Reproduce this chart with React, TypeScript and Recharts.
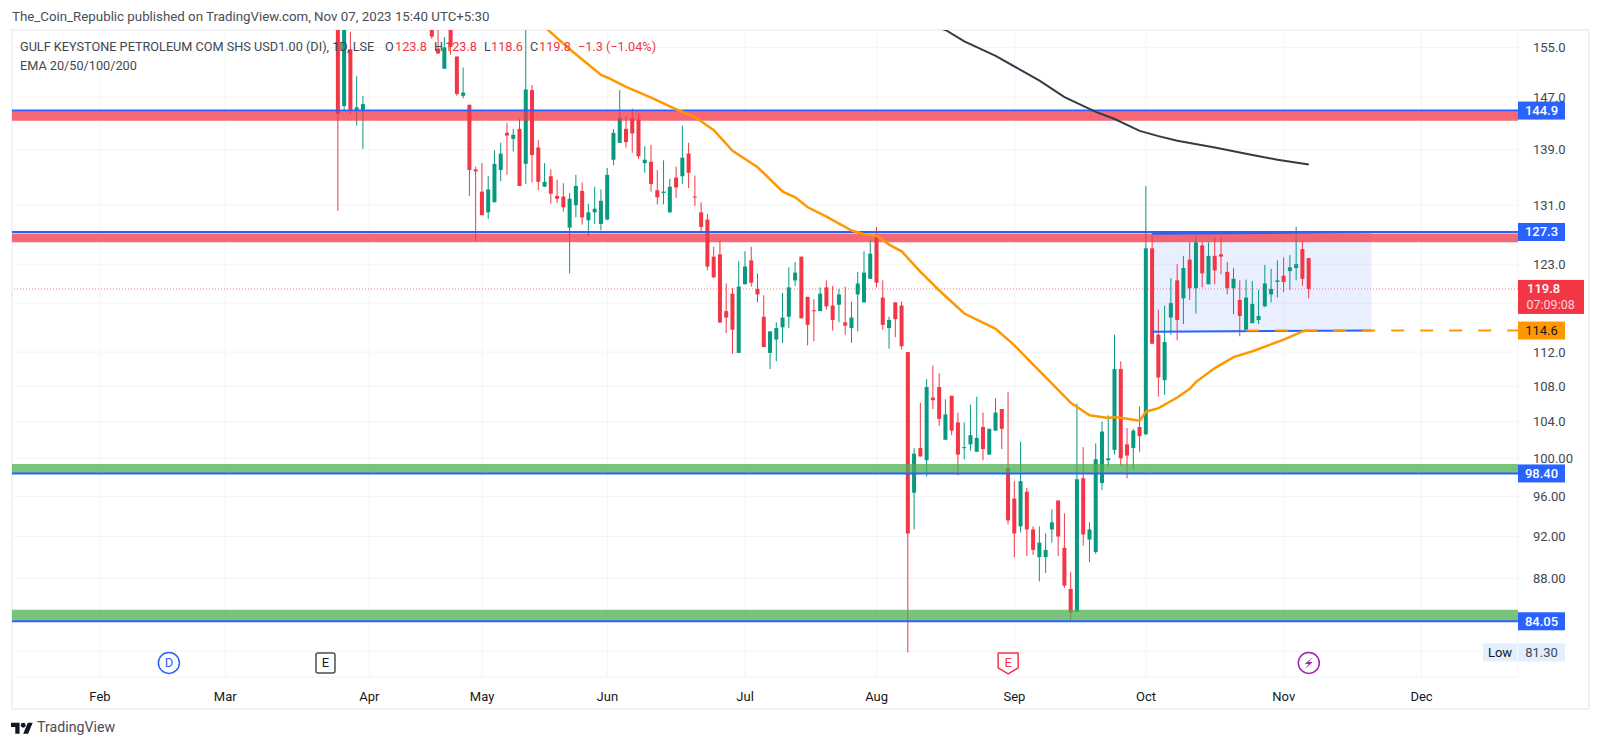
import React from "react";
import {
  ComposedChart,
  Bar,
  Line,
  XAxis,
  YAxis,
  CartesianGrid,
  ReferenceArea,
  ReferenceLine,
  ReferenceDot,
} from "recharts";

// bar number on the time axis, 0 = 1 Feb. The stock is off the top of the pane for bars 43-52.
const days = [
  38, 39, 40, 41, 42,
  ...Array.from({ length: 141 }, (_, i) => 53 + i),
];

const opens = [
  165, 145.6, 154.7, 145, 145,
  158.7, 154.8, 151.5, 159, 153.5, 147.2, 145.8, 136.1, 132.9, 130, 131.4, 136, 141.5, 140.6, 142.1, 136.9, 148.1, 139.3, 133.6, 135.1, 132.3, 132.2, 127.9, 131, 133, 128.9, 130, 128.4, 129, 137.5, 140, 142.1, 143.7, 143.5, 137, 137.2, 133.1, 132.7, 130, 134.9, 135.1, 138.4, 132.2, 130, 129, 124, 124.3, 117, 119.2, 111.9, 120.4, 123.5, 119.8, 116.3, 111.9, 113.5, 115, 116.3, 120.9, 124, 118.8, 117.1, 117, 120, 117.7, 117.8, 115.6, 114.9, 119.1, 118.1, 121.1, 126.6, 118.7, 114.9, 118.1, 117.7,
  112, 96.4, 101.1, 99.8, 106.7, 107.9, 102, 106.9, 103.9, 101.1, 101.5, 100.7, 103.4, 100.4, 103, 105.4, 99, 95.8, 93, 96.5, 92.7, 90, 90, 92.7, 95.6, 90.9, 87, 84.9, 97.9, 91.7, 90.5, 97.4, 99.8, 100.9, 110, 101.5, 101.1, 103.4, 102.6, 125.1, 114.1, 108.7, 116.2, 120.9, 118.6, 123.6, 119.9, 125.5, 120.4, 124.1, 124.3, 122, 119.9, 118.4, 114.7, 115.5, 115.9, 117.6, 119.1, 120.7, 121.5, 122.1, 122.5, 125, 123.8,
];

const highs = [
  170, 170, 157.6, 150.3, 147.2,
  160, 159, 156.7, 161, 153.5, 151.7, 145.8, 136.5, 137, 135.1, 138.9, 140, 143, 142.1, 143.6, 158.2, 148.9, 140.4, 137, 136.1, 134.6, 134.1, 132.7, 135.3, 134.2, 131.2, 133.6, 133.2, 136.3, 142.1, 148.1, 144, 145.2, 144.5, 139.5, 139.7, 136, 137.4, 134.7, 136.5, 142.6, 140, 135.2, 131.4, 129.8, 125.3, 126.2, 120.5, 119.9, 123.4, 124.7, 125.3, 121.8, 119, 114.5, 115.6, 119.3, 122.6, 123.3, 124, 118.8, 118.5, 120, 120.9, 120.2, 119.8, 120.1, 118.2, 122, 124.7, 126.2, 128, 120.9, 116.3, 118.1, 118.2,
  112, 101.1, 106.1, 108.8, 110.4, 109.5, 106.5, 106.9, 105, 103.9, 105.9, 106.8, 105, 103.2, 106.6, 105.4, 107.3, 97.6, 101.8, 96.9, 93, 93, 92.3, 94.7, 95.6, 94.3, 88.6, 106, 101.2, 93.4, 101.6, 104, 104.7, 114.1, 110.9, 103.3, 103.2, 105.7, 133.7, 127, 117.2, 117.7, 121.2, 123, 124.1, 125.9, 126.8, 126, 125.9, 126.6, 126.6, 123.3, 122.5, 120.9, 121, 120.8, 119.7, 122.9, 122.4, 123.5, 123.9, 124.2, 128, 126.1, 123.8,
];

const lows = [
  130.2, 144.8, 144.3, 142.6, 139.1,
  156.4, 153.9, 151.5, 153.8, 147.2, 146.8, 132.3, 126.1, 129.6, 129.1, 131.4, 134.4, 135.3, 138.7, 133.7, 134, 134.2, 133.1, 133.6, 131.2, 131.3, 130.1, 121.8, 129.3, 128.3, 126.8, 128.4, 127.5, 128.9, 136.7, 140, 139.3, 138.5, 137.6, 135.6, 132.9, 131.1, 131.1, 129.9, 132, 134, 133.4, 130.9, 127.3, 122.2, 121.2, 115.5, 114.3, 111.8, 111.9, 120.4, 120.1, 118.1, 112.6, 110, 110.9, 113.1, 114.9, 120.2, 116.1, 112.8, 113.3, 117, 117.2, 114.6, 115.6, 114.1, 113.1, 114.5, 118.1, 121.1, 120, 114.7, 112.4, 113.8, 112.3,
  81.3, 92.7, 100.2, 98.1, 105.4, 103.5, 102, 102.5, 98.2, 99.9, 100.8, 100.7, 99.8, 100.4, 103, 101, 93.2, 90, 92.4, 90.1, 90.2, 87.7, 88.5, 91.4, 90.1, 87.1, 84, 84.9, 91.1, 89.5, 90.3, 96.7, 99.1, 100.4, 99.2, 97.9, 98.8, 100.7, 102.5, 113, 106.8, 107, 114.1, 113.4, 115.4, 118.4, 116.7, 120, 120.4, 120.4, 121.7, 119.1, 116.6, 113.9, 114.7, 115.5, 115.4, 117.5, 118.1, 118.7, 119.4, 119.7, 120.9, 120.2, 118.6,
];

const closes = [
  144.4, 166, 145, 145.4, 145.9,
  156.8, 154, 155, 155.1, 147.5, 147.7, 136, 135.8, 129.6, 133.2, 136.9, 138.4, 141.1, 141.2, 133.7, 148.2, 138.2, 134.3, 134.3, 132.6, 131.9, 130.7, 131.9, 133.7, 129.3, 130, 130.5, 131.6, 135.3, 141.5, 143.8, 140.1, 141.4, 138, 137.5, 134, 132.1, 132.9, 133.6, 133.5, 137.8, 135.6, 132.1, 128, 122.7, 121.3, 115.6, 116.2, 114.7, 120.1, 122.7, 120.6, 119.1, 112.6, 114.5, 114.9, 116.2, 120, 121.9, 116.1, 115.3, 117, 119.2, 117.6, 115.9, 119.1, 115.2, 116.2, 120.5, 121.9, 124.4, 120.6, 115.3, 115.9, 116, 112.7,
  92.3, 100.5, 100.2, 107.9, 106.4, 104.3, 104.8, 103, 100.4, 101.2, 102.5, 102.2, 101, 103.2, 105, 103.2, 93.6, 92.3, 97.6, 92.7, 90.7, 91.4, 90.7, 93.4, 92, 87.3, 84.8, 97.8, 92.2, 92.7, 99.9, 102.9, 100, 110, 100, 100.3, 103, 102.4, 125.1, 113, 109, 113.2, 118, 115.9, 122.5, 119.9, 125.9, 121.8, 124.1, 122.2, 124, 119.9, 121.1, 116.4, 118.7, 117.9, 116.4, 120.5, 119.8, 120.9, 120.7, 122.6, 123, 121.1, 119.8,
];

const ema50Days = [71, 75, 80, 81, 84, 88, 92, 95, 98, 101, 105, 109, 111, 113, 116, 120, 122, 124, 126, 128, 131, 134, 138, 143, 146, 149, 152, 155, 158, 161, 162, 164, 166, 167, 169, 172, 174, 175, 178, 181, 184, 189, 192, 193];
const ema50Values = [158.4, 154.7, 150.5, 150.1, 148.6, 146.9, 145.1, 143.9, 141.9, 138.8, 136.4, 132.9, 132.1, 130.7, 129.4, 127.5, 127, 126.8, 125.6, 124.7, 122, 119.6, 116.7, 114.8, 112.8, 110.5, 108.3, 106.1, 104.7, 104.4, 104.5, 104.3, 104.1, 105.1, 105.5, 106.7, 107.7, 108.5, 110.1, 111.4, 112.1, 113.5, 114.5, 114.6];

const ema200Days = [134, 135, 138, 143, 150, 154, 159, 162, 166, 169, 172, 178, 184, 188, 193];
const ema200Values = [158.2, 157.9, 156, 153.6, 149.6, 147, 144.7, 143.6, 141.8, 141, 140.3, 139.3, 138.2, 137.5, 136.8];

const monthDays = [0, 20, 43, 61, 81, 103, 124, 146, 167, 189, 211];
const monthLabels = ["Feb", "Mar", "Apr", "May", "Jun", "Jul", "Aug", "Sep", "Oct", "Nov", "Dec"];

const priceTicks = [155, 147, 139, 131, 123, 118, 112, 108, 104, 100, 96, 92, 88, 84.5, 81.4];
// these grid lines have their label hidden behind a price tag
const coveredTicks = [118, 84.5, 81.4];

const redZones = [
  [143.35, 144.8],
  [125.9, 127.1],
];
const greenZones = [
  [98.45, 99.4],
  [84.1, 85.1],
];
const levels = [144.9, 127.3, 98.4, 84.05];
const levelLabels = ["144.9", "127.3", "98.40", "84.05"];

const DAY_MIN = -14.05;
const DAY_MAX = 226.4;
const UP = "#089981";
const DOWN = "#f23645";
const BLUE = "#2962ff";
const FONT = "Roboto, 'Noto Sans', sans-serif";

const rows = days.map((day, i) => ({
  day,
  open: opens[i],
  high: highs[i],
  low: lows[i],
  close: closes[i],
}));
const ema50 = ema50Days.map((day, i) => ({ day, value: ema50Values[i] }));
const ema200 = ema200Days.map((day, i) => ({ day, value: ema200Values[i] }));

// y scale is log, so body edges are placed along the high-low range in log space
const Candle = ({ x, y, width, height, payload }: any) => {
  const { open, high, low, close } = payload;
  const span = Math.log(high / low) || 1;
  const at = (v: number) => y + (height * Math.log(high / v)) / span;
  const top = at(Math.max(open, close));
  const bottom = at(Math.min(open, close));
  const color = close >= open ? UP : DOWN;
  const mid = x + width / 2;
  return (
    <g>
      <line x1={mid} x2={mid} y1={y} y2={y + height} stroke={color} strokeWidth={1} />
      <rect x={x} y={top} width={width} height={Math.max(bottom - top, 1)} fill={color} />
    </g>
  );
};

const priceTag = (text: string, fill: string, color = "#fff") => (p: any) => (
  <g>
    <rect x={p.cx} y={p.cy - 9} width={47} height={18} fill={fill} />
    <text x={p.cx + 23.5} y={p.cy + 4.5} textAnchor="middle" fontFamily={FONT} fontSize={13} fontWeight={color === "#fff" ? 500 : 400} fill={color}>
      {text}
    </text>
  </g>
);

const lastPriceTag = (p: any) => (
  <g>
    <rect x={p.cx} y={p.cy - 9} width={66} height={34} fill={DOWN} />
    <text x={p.cx + 9} y={p.cy + 4.5} fontFamily={FONT} fontSize={13} fontWeight={500} fill="#fff">
      119.8
    </text>
    <text x={p.cx + 8.5} y={p.cy + 20} fontFamily={FONT} fontSize={12.5} fill="#fbd5d9">
      07:09:08
    </text>
  </g>
);

const lowTag = (p: any) => (
  <g>
    <rect x={p.cx - 35} y={p.cy - 9} width={34} height={18} fill="#e3effd" />
    <rect x={p.cx} y={p.cy - 9} width={47} height={18} fill="#e3effd" />
    <text x={p.cx - 18} y={p.cy + 4.5} textAnchor="middle" fontFamily={FONT} fontSize={13} fill="#131722">
      Low
    </text>
    <text x={p.cx + 23.5} y={p.cy + 4.5} textAnchor="middle" fontFamily={FONT} fontSize={13} fill="#434651">
      81.30
    </text>
  </g>
);

const iconDividend = (p: any) => (
  <g>
    <circle cx={p.cx} cy={p.cy} r={10.5} fill="#fff" stroke={BLUE} strokeWidth={1.5} />
    <text x={p.cx} y={p.cy + 4.5} textAnchor="middle" fontFamily={FONT} fontSize={13} fill={BLUE}>D</text>
  </g>
);

const iconEarningsPast = (p: any) => (
  <g>
    <rect x={p.cx - 9.5} y={p.cy - 10} width={19} height={20} rx={2} fill="#fff" stroke="#4a4d57" strokeWidth={1.5} />
    <text x={p.cx} y={p.cy + 4.5} textAnchor="middle" fontFamily={FONT} fontSize={13} fill="#131722">E</text>
  </g>
);

const iconEarningsNext = (p: any) => (
  <g>
    <path
      d={`M${p.cx - 10} ${p.cy - 10}h20v15l-10 6l-10 -6z`}
      fill="#fff"
      stroke={DOWN}
      strokeWidth={1.5}
      strokeLinejoin="round"
    />
    <text x={p.cx} y={p.cy + 4} textAnchor="middle" fontFamily={FONT} fontSize={13} fill={DOWN}>E</text>
  </g>
);

const iconBolt = (p: any) => (
  <g>
    <circle cx={p.cx} cy={p.cy} r={10.5} fill="#fff" stroke="#9c27b0" strokeWidth={1.5} />
    <path d={`M${p.cx + 4} ${p.cy - 6}l-8 7h4l-4 5l8 -7h-4z`} fill="#9c27b0" />
  </g>
);

const formatPrice = (v: number) => {
  if (coveredTicks.includes(v)) return "";
  return v > 100 ? v.toFixed(1) : v.toFixed(2);
};

const legendParts: [number, string, string][] = [
  [20, "GULF KEYSTONE PETROLEUM COM SHS USD1.00 (DI), 1D, LSE", "#434651"],
  [385, "O", "#434651"],
  [395, "123.8", DOWN],
  [434, "H", "#434651"],
  [445, "123.8", DOWN],
  [484, "L", "#434651"],
  [491, "118.6", DOWN],
  [530, "C", "#434651"],
  [539, "119.8", DOWN],
  [578, "−1.3", DOWN],
  [606, "(−1.04%)", DOWN],
];

const App = () => {
  return (
    <div style={{ position: "absolute", left: 0, top: 0, width: 1600, height: 747, background: "#fff", overflow: "hidden", fontFamily: FONT }}>
      <div style={{ position: "absolute", left: 11, top: 29, width: 1575, height: 677, border: "2px solid #f0f1f6" }} />
      <ComposedChart
        width={1600}
        height={747}
        data={rows}
        margin={{ top: 30, right: 12, bottom: 39, left: 12 }}
        barSize={4}
        style={{ position: "absolute", left: 0, top: 0 }}
      >
        <CartesianGrid stroke="#f3f4f7" />
        <XAxis
          dataKey="day"
          type="number"
          domain={[DAY_MIN, DAY_MAX]}
          allowDataOverflow
          ticks={monthDays}
          interval={0}
          tickFormatter={(d: number) => monthLabels[monthDays.indexOf(d)]}
          tick={{ fontSize: 13, fill: "#131722", fontFamily: FONT }}
          tickLine={false}
          axisLine={false}
          tickMargin={9}
          height={31}
        />
        <YAxis
          orientation="right"
          scale="log"
          type="number"
          domain={[79.2, 157.9]}
          allowDataOverflow
          ticks={priceTicks}
          interval={0}
          tickFormatter={formatPrice}
          tick={{ fontSize: 13, fill: "#434651", fontFamily: FONT, textAnchor: "start" }}
          tickLine={false}
          axisLine={false}
          tickMargin={9}
          width={70}
        />
        <ReferenceArea x1={168} x2={203} y1={114.55} y2={127.1} fill={BLUE} fillOpacity={0.1} stroke="none" />
        <ReferenceLine y={119.8} stroke={DOWN} strokeWidth={1} strokeDasharray="1 2" strokeOpacity={0.6} />
        <Bar dataKey={(d: any) => [d.low, d.high]} shape={<Candle />} isAnimationActive={false} />
        {redZones.map(([y1, y2]) => (
          <ReferenceArea key={y1} y1={y1} y2={y2} fill={DOWN} fillOpacity={0.75} stroke="none" zIndex={350} />
        ))}
        {greenZones.map(([y1, y2]) => (
          <ReferenceArea key={y1} y1={y1} y2={y2} fill="#4caf50" fillOpacity={0.75} stroke="none" zIndex={350} />
        ))}
        {levels.map((y) => (
          <ReferenceLine key={y} y={y} stroke={BLUE} strokeWidth={2} zIndex={360} />
        ))}
        <Line data={[{ day: 168, value: 127.05 }, { day: 203, value: 127.25 }]} dataKey="value" stroke={BLUE} strokeWidth={2} dot={false} isAnimationActive={false} />
        <Line data={[{ day: 168, value: 114.45 }, { day: 203, value: 114.6 }]} dataKey="value" stroke={BLUE} strokeWidth={2} dot={false} isAnimationActive={false} />
        <Line data={[{ day: 183, value: 114.6 }, { day: DAY_MAX, value: 114.6 }]} dataKey="value" stroke="#ff9800" strokeWidth={2} strokeDasharray="13 16" dot={false} isAnimationActive={false} />
        <Line data={ema50} dataKey="value" stroke="#ff9800" strokeWidth={2.5} dot={false} isAnimationActive={false} />
        <Line data={ema200} dataKey="value" stroke="#363a45" strokeWidth={2} dot={false} isAnimationActive={false} />
        <ReferenceDot x={11} y={80.4} shape={iconDividend} ifOverflow="visible" zIndex={1100} />
        <ReferenceDot x={36} y={80.4} shape={iconEarningsPast} ifOverflow="visible" zIndex={1100} />
        <ReferenceDot x={145} y={80.4} shape={iconEarningsNext} ifOverflow="visible" zIndex={1100} />
        <ReferenceDot x={193} y={80.4} shape={iconBolt} ifOverflow="visible" zIndex={1100} />
        {levels.map((y, i) => (
          <ReferenceDot key={y} x={DAY_MAX} y={y} shape={priceTag(levelLabels[i], BLUE)} ifOverflow="visible" zIndex={1100} />
        ))}
        <ReferenceDot x={DAY_MAX} y={114.6} shape={priceTag("114.6", "#ff9800", "#131722")} ifOverflow="visible" zIndex={1100} />
        <ReferenceDot x={DAY_MAX} y={119.8} shape={lastPriceTag} ifOverflow="visible" zIndex={1100} />
        <ReferenceDot x={DAY_MAX} y={81.3} shape={lowTag} ifOverflow="visible" zIndex={1100} />
      </ComposedChart>
      <div style={{ position: "absolute", left: 12, top: 9, fontSize: 13.3, color: "#4a4d57", whiteSpace: "nowrap" }}>
        The_Coin_Republic published on TradingView.com, Nov 07, 2023 15:40 UTC+5:30
      </div>
      {legendParts.map(([left, text, color]) => (
        <div key={left} style={{ position: "absolute", left, top: 39, fontSize: 12.7, color, whiteSpace: "nowrap" }}>
          {text}
        </div>
      ))}
      <div style={{ position: "absolute", left: 20, top: 58, fontSize: 12.7, color: "#434651", whiteSpace: "nowrap" }}>
        EMA 20/50/100/200
      </div>
      <svg width={22} height={12} viewBox="0 0 36 19" style={{ position: "absolute", left: 11, top: 722 }}>
        <path d="M14 19H7V8H0V1h14v18zM28 19h-8l7.5-18h8L28 19z" fill="#131722" />
        <circle cx={20} cy={5} r={4} fill="#131722" />
      </svg>
      <div style={{ position: "absolute", left: 37, top: 719, fontSize: 14.2, color: "#4a4d57" }}>TradingView</div>
    </div>
  );
};

export default App;
